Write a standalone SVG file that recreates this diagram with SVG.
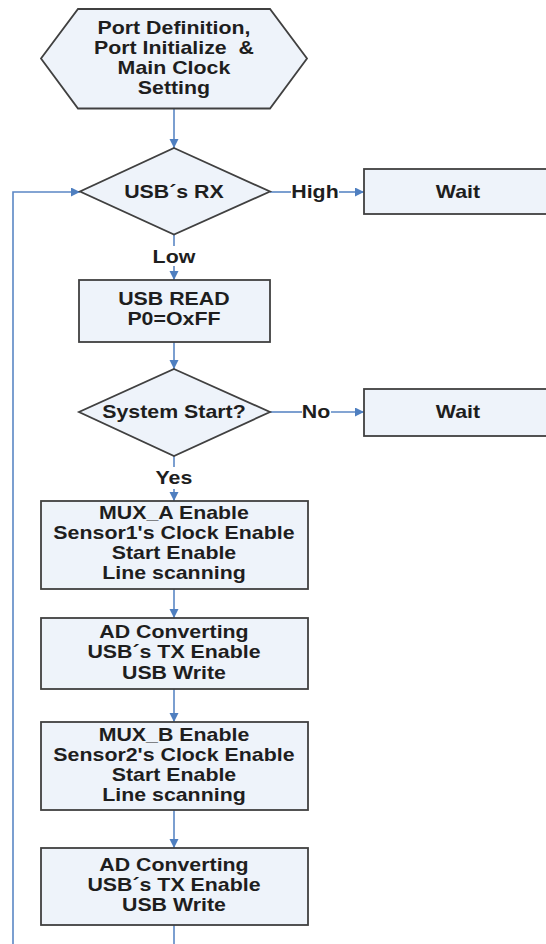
<svg xmlns="http://www.w3.org/2000/svg" width="546" height="944" viewBox="0 0 546 944">
  <style>
    .shape { fill: #eef3fa; stroke: #404040; stroke-width: 1.8; }
    .edge { fill: none; stroke: #5b87c5; stroke-width: 1.6; }
    .arrow { marker-end: url(#head); }
    text { font-family: "Liberation Sans", Arial, sans-serif; font-weight: bold; font-size: 17.5px; fill: #1e1e1e; text-anchor: middle; }
    .wide { transform: scale(1.22, 1); }
  </style>
  <defs>
    <marker id="head" markerUnits="userSpaceOnUse" markerWidth="10" markerHeight="10" refX="9" refY="4.5" orient="auto">
      <path d="M0,0 L9,4.5 L0,9 Z" fill="#4f7fc0"/>
    </marker>
  </defs>

  <rect width="546" height="944" fill="#ffffff"/>

  <!-- connectors -->
  <g id="connectors">
    <line class="edge arrow" x1="174" y1="109" x2="174" y2="148"/>
    <line class="edge" x1="270" y1="192" x2="291" y2="192"/>
    <line class="edge arrow" x1="339" y1="192" x2="364" y2="192"/>
    <line class="edge" x1="174" y1="234" x2="174" y2="246"/>
    <line class="edge arrow" x1="174" y1="266" x2="174" y2="280"/>
    <line class="edge arrow" x1="174" y1="342" x2="174" y2="369"/>
    <line class="edge" x1="270" y1="412" x2="302" y2="412"/>
    <line class="edge arrow" x1="331" y1="412" x2="364" y2="412"/>
    <line class="edge" x1="174" y1="456" x2="174" y2="467"/>
    <line class="edge arrow" x1="174" y1="489" x2="174" y2="501"/>
    <line class="edge arrow" x1="174" y1="589" x2="174" y2="618"/>
    <line class="edge arrow" x1="174" y1="689" x2="174" y2="722"/>
    <line class="edge arrow" x1="174" y1="810" x2="174" y2="848"/>
    <line class="edge" x1="174" y1="925" x2="174" y2="946"/>
    <polyline class="edge arrow" points="13,946 13,192 80,192"/>
    <text class="wide" x="258.2" y="198">High</text>
    <text class="wide" x="142.6" y="263">Low</text>
    <text class="wide" x="259" y="418">No</text>
    <text class="wide" x="142.6" y="484">Yes</text>
  </g>

  <!-- initialisation -->
  <g id="init">
    <polygon class="shape" points="78,9 270,9 307,58.5 270,108.5 78,108.5 41,58.5"/>
    <text class="wide" x="142.6" y="34.5">Port Definition,</text>
    <text class="wide" x="142.6" y="54.5">Port Initialize&#160; &amp;</text>
    <text class="wide" x="142.6" y="74.5">Main Clock</text>
    <text class="wide" x="142.6" y="94.5">Setting</text>
  </g>

  <g id="usb-rx">
    <polygon class="shape" points="174,148 270,191.5 174,234.5 80,191.5"/>
    <text class="wide" x="142.6" y="198">USB´s RX</text>
  </g>

  <g id="wait-rx">
    <rect class="shape" x="364" y="169" width="200" height="45"/>
    <text class="wide" x="375.4" y="198">Wait</text>
  </g>

  <g id="usb-read">
    <rect class="shape" x="79" y="280" width="191" height="62"/>
    <text class="wide" x="142.6" y="305">USB READ</text>
    <text class="wide" x="142.6" y="325">P0=OxFF</text>
  </g>

  <g id="system-start">
    <polygon class="shape" points="174,369 270,412 174,456 79,412"/>
    <text class="wide" x="142.6" y="418">System Start?</text>
  </g>

  <g id="wait-start">
    <rect class="shape" x="364" y="389" width="200" height="47"/>
    <text class="wide" x="375.4" y="418">Wait</text>
  </g>

  <g id="mux-a">
    <rect class="shape" x="41" y="501" width="267" height="88"/>
    <text class="wide" x="142.6" y="519.5">MUX_A Enable</text>
    <text class="wide" x="142.6" y="539.5">Sensor1's Clock Enable</text>
    <text class="wide" x="142.6" y="559.5">Start Enable</text>
    <text class="wide" x="142.6" y="579.5">Line scanning</text>
  </g>

  <g id="ad-a">
    <rect class="shape" x="41" y="618" width="267" height="71"/>
    <text class="wide" x="142.6" y="638.5">AD Converting</text>
    <text class="wide" x="142.6" y="658.5">USB´s TX Enable</text>
    <text class="wide" x="142.6" y="679">USB Write</text>
  </g>

  <g id="mux-b">
    <rect class="shape" x="41" y="722" width="267" height="88"/>
    <text class="wide" x="142.6" y="741.5">MUX_B Enable</text>
    <text class="wide" x="142.6" y="761.5">Sensor2's Clock Enable</text>
    <text class="wide" x="142.6" y="781.5">Start Enable</text>
    <text class="wide" x="142.6" y="801.5">Line scanning</text>
  </g>

  <g id="ad-b">
    <rect class="shape" x="41" y="848" width="267" height="77"/>
    <text class="wide" x="142.6" y="871.5">AD Converting</text>
    <text class="wide" x="142.6" y="891.5">USB´s TX Enable</text>
    <text class="wide" x="142.6" y="911.5">USB Write</text>
  </g>
</svg>
